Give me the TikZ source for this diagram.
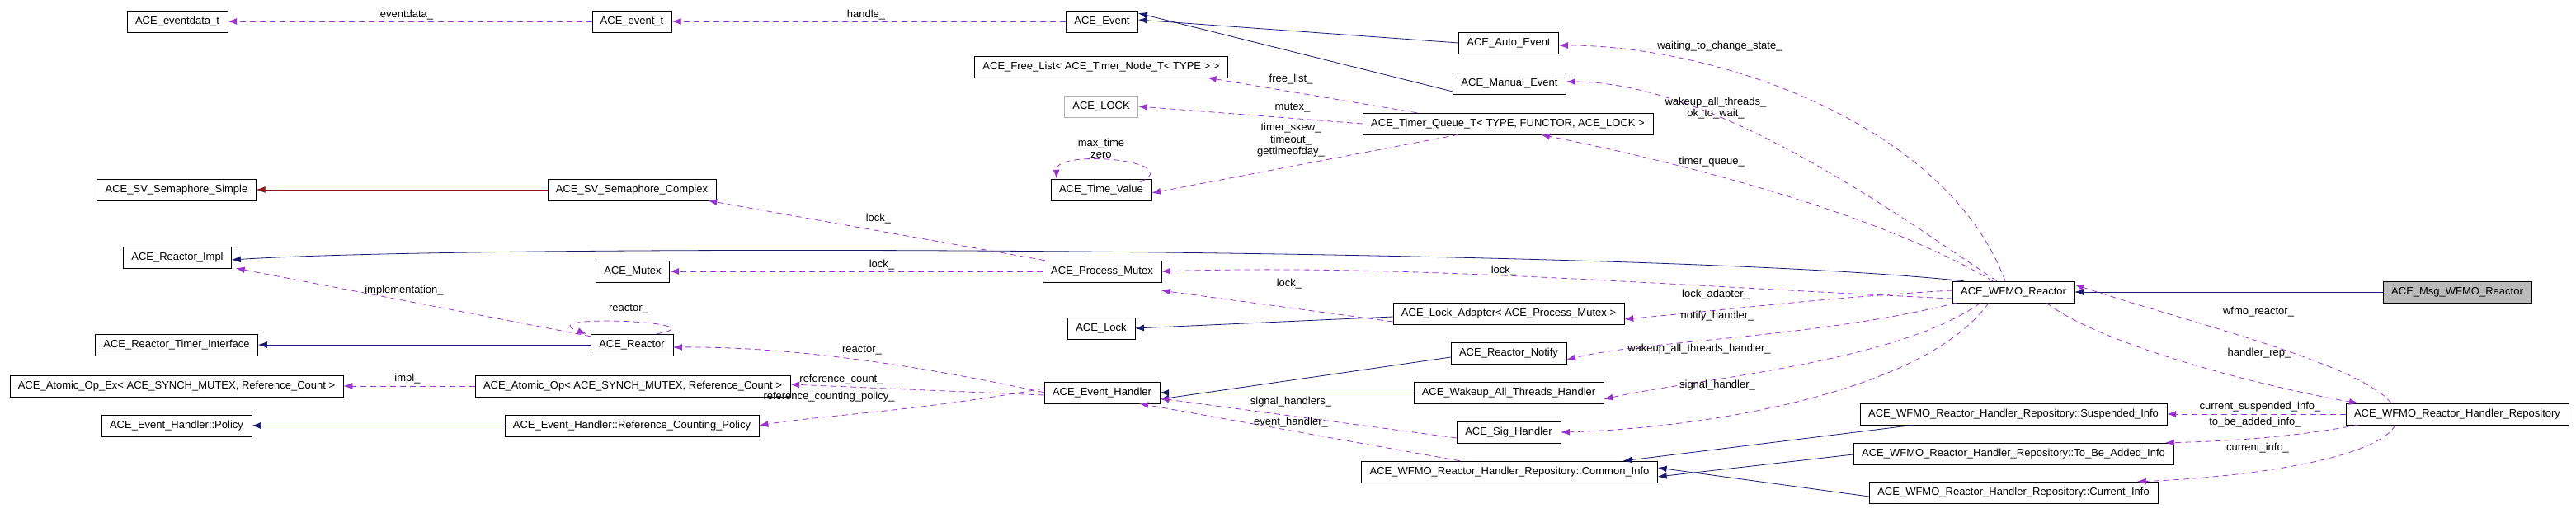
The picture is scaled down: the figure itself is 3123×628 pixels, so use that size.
\documentclass[tikz,border=0pt]{standalone}
\usepackage{fontspec}
\setmainfont{Liberation Sans}
\usetikzlibrary{arrows.meta}
\definecolor{inhcol}{HTML}{191970}
\definecolor{privcol}{HTML}{8B1A1A}
\definecolor{usecol}{HTML}{9A32CD}
\newcommand{\dx}{\fontsize{13}{14.5}\selectfont}
\tikzset{
  cls/.style={draw=black, fill=white, minimum height=26pt, inner xsep=10pt, font=\dx},
  inh/.style={draw=inhcol, thick, -{Latex[length=11pt,width=8pt]}},
  priv/.style={draw=privcol, thick, -{Latex[length=11pt,width=8pt]}},
  use/.style={draw=usecol, thick, dash pattern=on 7pt off 5pt, -{Latex[length=11pt,width=8pt]}},
  lbl/.style={font=\dx, inner sep=0pt, align=center}
}
\begin{document}
\begin{tikzpicture}[x=1pt,y=-1pt]
	\useasboundingbox (0,0) rectangle (3123,628);
	% classes
	\node[cls] (evdata) at (215,26) {ACE\_eventdata\_t};
	\node[cls] (evt) at (766,26) {ACE\_event\_t};
	\node[cls] (event) at (1336,26) {ACE\_Event};
	\node[cls] (auto) at (1829,52) {ACE\_Auto\_Event};
	\node[cls] (manual) at (1830,101) {ACE\_Manual\_Event};
	\node[cls] (freelist) at (1335,81) {ACE\_Free\_List< ACE\_Timer\_Node\_T< TYPE > >};
	\node[cls, draw=black!30] (lockt) at (1335,129) {ACE\_LOCK};
	\node[cls] (tqueue) at (1828,150) {ACE\_Timer\_Queue\_T< TYPE, FUNCTOR, ACE\_LOCK >};
	\node[cls] (tvalue) at (1335,230) {ACE\_Time\_Value};
	\node[cls] (semsimple) at (214,230) {ACE\_SV\_Semaphore\_Simple};
	\node[cls] (semcomplex) at (766,230) {ACE\_SV\_Semaphore\_Complex};
	\node[cls] (rimpl) at (215,312) {ACE\_Reactor\_Impl};
	\node[cls] (mutex) at (767,329) {ACE\_Mutex};
	\node[cls] (pmutex) at (1336,329) {ACE\_Process\_Mutex};
	\node[cls] (reactor) at (766,418) {ACE\_Reactor};
	\node[cls] (rtimer) at (214,418) {ACE\_Reactor\_Timer\_Interface};
	\node[cls] (opex) at (214,468) {ACE\_Atomic\_Op\_Ex< ACE\_SYNCH\_MUTEX, Reference\_Count >};
	\node[cls] (op) at (767,468) {ACE\_Atomic\_Op< ACE\_SYNCH\_MUTEX, Reference\_Count >};
	\node[cls] (policy) at (214,516) {ACE\_Event\_Handler::Policy};
	\node[cls] (refpolicy) at (766,516) {ACE\_Event\_Handler::Reference\_Counting\_Policy};
	\node[cls] (ladapter) at (1829,380) {ACE\_Lock\_Adapter< ACE\_Process\_Mutex >};
	\node[cls] (lock) at (1335,398) {ACE\_Lock};
	\node[cls] (notify) at (1829,428) {ACE\_Reactor\_Notify};
	\node[cls] (ehandler) at (1336,476) {ACE\_Event\_Handler};
	\node[cls] (wakeup) at (1829,476) {ACE\_Wakeup\_All\_Threads\_Handler};
	\node[cls] (sig) at (1829,524) {ACE\_Sig\_Handler};
	\node[cls] (common) at (1830,572) {ACE\_WFMO\_Reactor\_Handler\_Repository::Common\_Info};
	\node[cls] (wfmo) at (2441,354) {ACE\_WFMO\_Reactor};
	\node[cls, fill=black!27] (msg) at (2979,354) {ACE\_Msg\_WFMO\_Reactor};
	\node[cls] (hrep) at (2979,502) {ACE\_WFMO\_Reactor\_Handler\_Repository};
	\node[cls] (susp) at (2441,502) {ACE\_WFMO\_Reactor\_Handler\_Repository::Suspended\_Info};
	\node[cls] (tobe) at (2441,550) {ACE\_WFMO\_Reactor\_Handler\_Repository::To\_Be\_Added\_Info};
	\node[cls] (curinfo) at (2441,597) {ACE\_WFMO\_Reactor\_Handler\_Repository::Current\_Info};
	% inheritance
	\draw[inh] (auto.west) -- ([yshift=2pt]event.east);
	\draw[inh] ([yshift=-10pt]manual.west) -- ([yshift=10pt]event.east);
	\draw[priv] (semcomplex) -- (semsimple);
	\draw[inh] ([xshift=-60pt]wfmo.north) .. controls (2000,300) and (600,295) .. ([yshift=-3pt]rimpl.east);
	\draw[inh] (reactor) -- (rtimer);
	\draw[inh] (refpolicy) -- (policy);
	\draw[inh] ([yshift=-4pt]ladapter.west) -- (lock.east);
	\draw[inh] ([yshift=-5pt]notify.west) -- ([yshift=-8pt]ehandler.east);
	\draw[inh] (wakeup) -- (ehandler);
	\draw[inh] (msg) -- (wfmo);
	\draw[inh] ([xshift=-120pt]susp.south) -- ([xshift=-42pt]common.north east);
	\draw[inh] ([yshift=-1pt]tobe.west) -- ([yshift=-6pt]common.east);
	\draw[inh] ([yshift=-5pt]curinfo.west) -- ([yshift=5pt]common.east);
	% usage
	\draw[use] (evt) -- (evdata);
	\draw[use] (event) -- (evt);
	\draw[use] ([xshift=-10pt]wfmo.north) .. controls (2360,150) and (2080,55) .. ([yshift=-3pt]auto.east);
	\draw[use] ([xshift=-20pt]wfmo.north) .. controls (2300,260) and (2080,100) .. ([yshift=2pt]manual.east);
	\draw[use] ([xshift=-25pt]wfmo.north) .. controls (2280,260) and (2050,200) .. ([xshift=40pt]tqueue.south);
	\draw[use] ([xshift=-110pt]tqueue.north) -- ([xshift=-25pt]freelist.south east);
	\draw[use] (tqueue.west) -- (lockt.east);
	\draw[use] ([xshift=-60pt]tqueue.south) -- ([yshift=-4pt]tvalue.east);
	\draw[use] ([xshift=-14pt,yshift=-4pt]tvalue.north east) .. controls (1440,195) and (1280,180) .. ([xshift=7pt]tvalue.north west);
	\draw[use] ([xshift=3pt]pmutex.north west) -- ([xshift=-10pt]semcomplex.south east);
	\draw[use] (pmutex) -- (mutex);
	\draw[use] ([yshift=-8pt]wfmo.west) .. controls (2000,345) and (1700,320) .. (pmutex.east);
	\draw[use] ([yshift=-10pt]ladapter.west) -- ([yshift=-10pt]pmutex.south east);
	\draw[use] ([yshift=2pt]wfmo.west) .. controls (2200,362) and (2100,375) .. ([yshift=-7pt]ladapter.east);
	\draw[use] ([xshift=5pt]wfmo.south west) .. controls (2200,410) and (2000,412) .. ([yshift=-8pt]notify.east);
	\draw[use] ([xshift=-40pt]wfmo.south) .. controls (2300,440) and (2050,460) .. ([yshift=-8pt]wakeup.east);
	\draw[use] ([xshift=-30pt]wfmo.south) .. controls (2330,480) and (2050,520) .. (sig.east);
	\draw[use] ([yshift=-7pt]sig.west) -- ([yshift=-7pt]ehandler.east);
	\draw[use] ([xshift=-60pt]common.north) -- ([xshift=-25pt]ehandler.south east);
	\draw[use] ([yshift=-13pt]ehandler.north west) .. controls (1100,440) and (950,420) .. ([yshift=-3pt]reactor.east);
	\draw[use] ([yshift=-3pt]ehandler.west) -- ([yshift=2pt]op.east);
	\draw[use] ([yshift=5pt]ehandler.west) .. controls (1100,500) and (1000,503) .. ([yshift=-13pt]refpolicy.north east);
	\draw[use] ([yshift=-3pt]reactor.north west) -- ([xshift=5pt]rimpl.south east);
	\draw[use] ([xshift=30pt]reactor.north) .. controls (880,390) and (640,380) .. ([xshift=-5pt]reactor.north west);
	\draw[use] (op) -- (opex);
	\draw[use] ([xshift=-80pt]hrep.north) .. controls (2860,440) and (2650,390) .. ([yshift=9pt]wfmo.east);
	\draw[use] ([xshift=40pt]wfmo.south) .. controls (2550,420) and (2750,470) .. ([xshift=-120pt]hrep.north);
	\draw[use] (hrep) -- (susp);
	\draw[use] ([xshift=-120pt]hrep.south) .. controls (2780,530) and (2700,535) .. ([xshift=-10pt]tobe.north east);
	\draw[use] ([xshift=-75pt]hrep.south) .. controls (2880,560) and (2700,580) .. ([xshift=-25pt]curinfo.north east);
	% labels
	\node[lbl] (leventdata) at (493,18) {eventdata\_};
	\node[lbl] (lhandle) at (1050,18) {handle\_};
	\node[lbl] (lwaiting) at (2085,56) {waiting\_to\_change\_state\_};
	\node[lbl] (lwakeup) at (2080,131) {wakeup\_all\_threads\_\\ok\_to\_wait\_};
	\node[lbl] (ltqueue) at (2075,196) {timer\_queue\_};
	\node[lbl] (lfree) at (1565,96) {free\_list\_};
	\node[lbl] (lmutex) at (1567,131) {mutex\_};
	\node[lbl] (lskew) at (1565,170) {timer\_skew\_\\timeout\_\\gettimeofday\_};
	\node[lbl] (lmax) at (1335,180) {max\_time\\zero};
	\node[lbl] (llocka) at (1065,265) {lock\_};
	\node[lbl] (llockb) at (1069,321) {lock\_};
	\node[lbl] (llockc) at (1823,328) {lock\_};
	\node[lbl] (llockd) at (1563,344) {lock\_};
	\node[lbl] (ladapt) at (2080,357) {lock\_adapter\_};
	\node[lbl] (lnotify) at (2082,383) {notify\_handler\_};
	\node[lbl] (lwakeh) at (2060,423) {wakeup\_all\_threads\_handler\_};
	\node[lbl] (lsigh) at (2082,467) {signal\_handler\_};
	\node[lbl] (lsighs) at (1565,487) {signal\_handlers\_};
	\node[lbl] (levh) at (1565,512) {event\_handler\_};
	\node[lbl] (lreact) at (1045,425) {reactor\_};
	\node[lbl] (lrefc) at (1020,460) {reference\_count\_};
	\node[lbl] (lrefp) at (1005,481) {reference\_counting\_policy\_};
	\node[lbl] (limpl) at (490,352) {implementation\_};
	\node[lbl] (lself) at (762,375) {reactor\_};
	\node[lbl] (limp) at (494,459) {impl\_};
	\node[lbl] (lwfmo) at (2738,378) {wfmo\_reactor\_};
	\node[lbl] (lhrep) at (2739,428) {handler\_rep\_};
	\node[lbl] (lsusp) at (2740,493) {current\_suspended\_info\_};
	\node[lbl] (ltobe) at (2734,512) {to\_be\_added\_info\_};
	\node[lbl] (lcur) at (2737,543) {current\_info\_};
\end{tikzpicture}
\end{document}
